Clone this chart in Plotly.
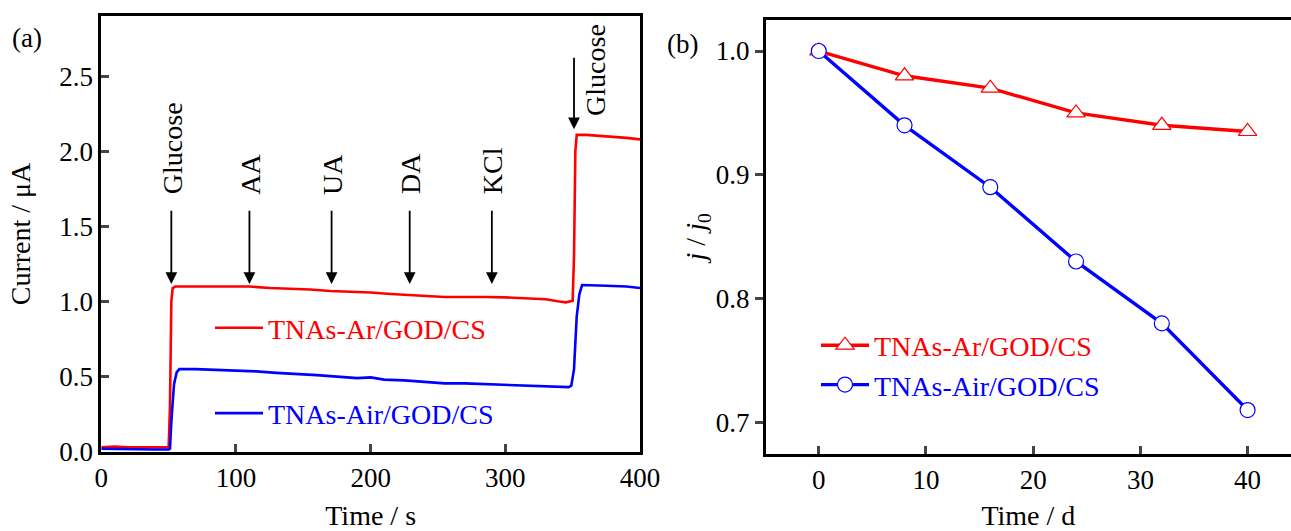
import plotly.graph_objects as go

# ---------------- data: panel (a) amperometric response ----------------
t_ar = [0, 10, 20, 30, 40, 50, 51, 52, 53, 55, 65, 80, 95, 110, 125, 140, 155, 170, 185,
        200, 215, 230, 245, 255, 270, 285, 300, 315, 330, 340, 345, 350, 351, 352, 353,
        360, 370, 380, 390, 400]
i_ar = [0.03, 0.035, 0.03, 0.032, 0.03, 0.03, 0.3, 1.0, 1.09, 1.1, 1.1, 1.1, 1.095, 1.1,
        1.09, 1.085, 1.08, 1.07, 1.065, 1.06, 1.05, 1.04, 1.035, 1.03, 1.032, 1.03, 1.028,
        1.02, 1.015, 1.0, 0.995, 1.005, 1.3, 2.0, 2.11, 2.11, 2.105, 2.1, 2.09, 2.08]

t_air = [0, 10, 20, 30, 40, 50, 51, 52, 54, 56, 58, 70, 85, 100, 115, 130, 145, 160, 175,
         190, 200, 210, 225, 240, 255, 270, 285, 300, 315, 330, 340, 347, 349, 351, 353,
         355, 357, 365, 375, 390, 400]
i_air = [0.02, 0.018, 0.015, 0.018, 0.015, 0.015, 0.02, 0.2, 0.45, 0.53, 0.55, 0.55, 0.545,
         0.54, 0.535, 0.525, 0.52, 0.51, 0.5, 0.49, 0.495, 0.48, 0.475, 0.465, 0.455, 0.455,
         0.45, 0.45, 0.445, 0.44, 0.435, 0.43, 0.44, 0.55, 0.9, 1.05, 1.11, 1.11, 1.105,
         1.1, 1.09]

# injection events
event_labels = ["Glucose", "AA", "UA", "DA", "KCl"]
event_times = [52, 110, 171, 229, 290]
event2_label = "Glucose"
event2_time = 351

# ---------------- data: panel (b) stability ----------------
days = [0, 8, 16, 24, 32, 40]
ratio_ar = [1.0, 0.98, 0.97, 0.95, 0.94, 0.935]
ratio_air = [1.0, 0.94, 0.89, 0.83, 0.78, 0.71]

series_names = ["TNAs-Ar/GOD/CS", "TNAs-Air/GOD/CS"]
RED = "#FF0000"
BLUE = "#0000FF"
FONT = "Liberation Serif"

W, H = 1291, 531


def px(x):
    return x / W


def py(y):
    return (H - y) / H


fig = go.Figure()

# panel (a)
fig.add_trace(go.Scatter(x=t_ar, y=i_ar, mode="lines", line=dict(color=RED, width=2.6),
                         name=f"<span style='color:{RED}'>{series_names[0]}</span>",
                         legend="legend", legendgroup="a1", xaxis="x", yaxis="y"))
fig.add_trace(go.Scatter(x=t_air, y=i_air, mode="lines", line=dict(color=BLUE, width=2.6),
                         name=f"<span style='color:{BLUE}'>{series_names[1]}</span>",
                         legend="legend", legendgroup="a2", xaxis="x", yaxis="y"))

# panel (b)
fig.add_trace(go.Scatter(x=days, y=ratio_ar, mode="lines+markers",
                         line=dict(color=RED, width=3.4),
                         marker=dict(symbol="triangle-up", size=16, color="white",
                                     line=dict(color=RED, width=1.2)),
                         name=f"<span style='color:{RED}'>{series_names[0]}</span>",
                         legend="legend2", xaxis="x2", yaxis="y2"))
fig.add_trace(go.Scatter(x=days, y=ratio_air, mode="lines+markers",
                         line=dict(color=BLUE, width=3.4),
                         marker=dict(symbol="circle", size=15, color="white",
                                     line=dict(color=BLUE, width=1.2)),
                         name=f"<span style='color:{BLUE}'>{series_names[1]}</span>",
                         legend="legend2", xaxis="x2", yaxis="y2"))

annotations = []
for lab, t in zip(event_labels, event_times):
    annotations.append(dict(x=t, y=1.117, ax=t, ay=1.662, xref="x", yref="y",
                            axref="x", ayref="y", showarrow=True, arrowhead=2,
                            arrowsize=1.3, arrowwidth=1.8, arrowcolor="black", text=" "))
    annotations.append(dict(x=t + 1, y=1.70, xref="x", yref="y", text=lab, textangle=-90,
                            showarrow=False, yanchor="bottom", xanchor="center",
                            font=dict(family=FONT, size=28, color="black")))
annotations.append(dict(x=event2_time, y=2.148, ax=event2_time, ay=2.681, xref="x", yref="y",
                        axref="x", ayref="y", showarrow=True, arrowhead=2, arrowsize=1.3,
                        arrowwidth=1.8, arrowcolor="black", text=" "))
annotations.append(dict(x=event2_time + 16, y=2.54, xref="x", yref="y", text=event2_label,
                        textangle=-90, showarrow=False, yanchor="middle", xanchor="center",
                        font=dict(family=FONT, size=28, color="black")))
annotations.append(dict(x=px(27), y=py(38), xref="paper", yref="paper",
                        text="(a)", showarrow=False, xanchor="center", yanchor="middle",
                        font=dict(family=FONT, size=27, color="black")))
annotations.append(dict(x=px(682), y=py(44), xref="paper", yref="paper",
                        text="(b)", showarrow=False, xanchor="center", yanchor="middle",
                        font=dict(family=FONT, size=27, color="black")))

axis_font = dict(family=FONT, size=27, color="black")
title_font = dict(family=FONT, size=28, color="black")

fig.update_layout(
    width=W, height=H,
    margin=dict(l=0, r=0, t=0, b=0, autoexpand=False),
    paper_bgcolor="white", plot_bgcolor="white",
    font=dict(family=FONT, color="black"),
    xaxis=dict(domain=[px(101.3), px(640)], range=[0, 400], automargin=False,
               tickvals=[0, 100, 200, 300, 400], ticks="inside", ticklen=8, tickwidth=2.5,
               showline=True, linewidth=2.8, linecolor="black", mirror=True,
               showgrid=False, zeroline=False, tickfont=axis_font,
               title=dict(text="Time / s", font=title_font, standoff=26)),
    yaxis=dict(domain=[py(451.7), py(16.3)], range=[0, 2.9],
               automargin=False,
               tickvals=[0, 0.5, 1.0, 1.5, 2.0, 2.5], tickformat=".1f",
               ticks="inside", ticklen=8, tickwidth=2.5,
               showline=True, linewidth=2.8, linecolor="black", mirror=True,
               showgrid=False, zeroline=False, tickfont=axis_font,
               title=dict(text="Current / μA", font=title_font, standoff=21)),
    xaxis2=dict(domain=[px(765.7), 1.0], range=[-4.95, 44.05], anchor="y2",
                automargin=False,
                tickvals=[0, 10, 20, 30, 40], ticks="inside", ticklen=8, tickwidth=2.5,
                showline=True, linewidth=2.8, linecolor="black", mirror=True,
                showgrid=False, zeroline=False, tickfont=axis_font,
                title=dict(text="Time / d", font=title_font, standoff=26)),
    yaxis2=dict(domain=[py(454), py(19.7)], range=[0.6745, 1.0253],
                anchor="x2", automargin=False, tickvals=[0.7, 0.8, 0.9, 1.0], tickformat=".1f",
                ticks="outside", ticklen=8, tickwidth=2.5,
                showline=True, linewidth=2.8, linecolor="black", mirror=False,
                showgrid=False, zeroline=False, tickfont=axis_font,
                title=dict(text="<i>j</i> / <i>j</i><sub>0</sub>", font=title_font, standoff=2)),
    legend=dict(x=px(210), y=py(303), xanchor="left", yanchor="top",
                bgcolor="rgba(0,0,0,0)", font=dict(family=FONT, size=28),
                itemwidth=48, tracegroupgap=46),
    legend2=dict(x=px(816), y=py(320.5), xanchor="left", yanchor="top",
                 bgcolor="rgba(0,0,0,0)", font=dict(family=FONT, size=28),
                 itemwidth=48, tracegroupgap=0),
    annotations=annotations,
    showlegend=True,
)

fig.write_html(
    "out.html",
    config={"displayModeBar": False},
    post_script="document.body.style.margin='0';document.body.style.overflow='hidden';",
)
